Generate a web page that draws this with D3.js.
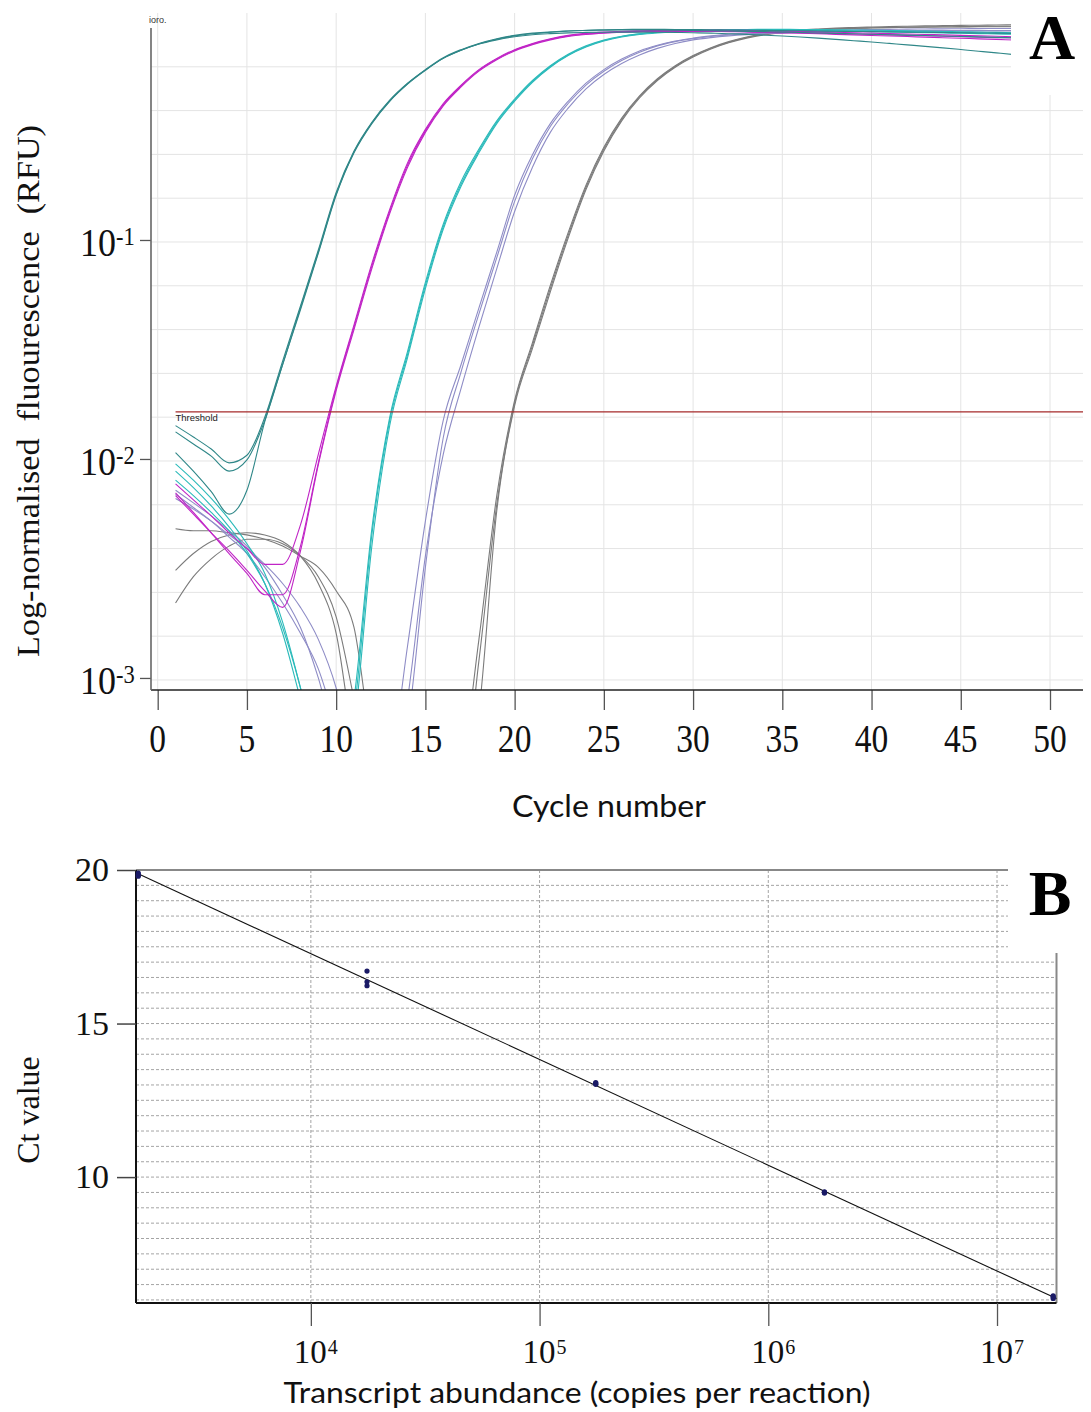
<!DOCTYPE html>
<html><head><meta charset="utf-8">
<script src="https://cdn.jsdelivr.net/npm/d3@7"></script>
<style>body{margin:0;background:#fff}svg{display:block}</style>
</head><body>
<svg id="chart" width="1091" height="1412"></svg>
<script>
// ---------------- Panel A data (log-normalised fluorescence per cycle) ----------------
const cycles = [1,2,3,4,5,6,7,8,9,10,11,12,13,14,15,16,17,18,19,20,21,22,23,24,25,26,27,28,29,30,31,32,33,34,35,36,37,38,39,40,41,42,43,44,45,46,47,48,49,50];

// 1.76e7 copies (dark teal)
const teal1 = [0.0142,0.0126,0.0111,0.0096,0.0104,0.0155,0.028,0.050,0.090,0.165,0.255,0.345,0.435,0.52,0.60,0.68,0.74,0.79,0.83,0.86,0.88,0.89,0.90,0.905,0.908,0.91,0.91,0.91,0.908,0.905,0.902,0.90,0.897,0.894,0.89,0.886,0.882,0.878,0.874,0.87,0.866,0.862,0.858,0.854,0.85,0.846,0.842,0.838,0.834,0.83];
const teal2 = [0.0133,0.0117,0.0103,0.0088,0.0099,0.0150,0.027,0.048,0.087,0.160,0.25,0.34,0.43,0.515,0.595,0.675,0.735,0.785,0.825,0.855,0.875,0.89,0.90,0.908,0.912,0.915,0.916,0.916,0.915,0.914,0.912,0.91,0.908,0.906,0.904,0.902,0.90,0.898,0.896,0.894,0.892,0.89,0.888,0.886,0.884,0.882,0.88,0.878,0.876,0.874];
const teal3 = [0.0107,0.0088,0.0071,0.0056,0.0072,0.0148,0.027,0.049,0.088,0.162,0.252,0.342,0.432,0.517,0.597,0.675,0.735,0.785,0.82,0.848,0.866,0.876,0.883,0.887,0.889,0.89,0.89,0.889,0.887,0.884,0.88,0.875,0.869,0.862,0.854,0.845,0.835,0.824,0.813,0.802,0.79,0.778,0.766,0.754,0.741,0.728,0.715,0.702,0.689,0.676];
// 1.76e6 copies (magenta)
const magenta1 = [0.0077,0.0065,0.0055,0.0046,0.0039,0.0033,0.0033,0.0050,0.0105,0.0215,0.041,0.078,0.138,0.225,0.32,0.42,0.51,0.60,0.675,0.74,0.79,0.83,0.86,0.878,0.89,0.898,0.903,0.906,0.908,0.909,0.909,0.908,0.906,0.903,0.90,0.896,0.892,0.888,0.884,0.88,0.876,0.872,0.868,0.864,0.86,0.856,0.852,0.848,0.844,0.84];
const magenta2 = [0.0070,0.0057,0.0046,0.0037,0.0030,0.0024,0.0024,0.0040,0.0096,0.0210,0.040,0.076,0.135,0.22,0.315,0.415,0.505,0.595,0.67,0.735,0.785,0.825,0.855,0.872,0.884,0.892,0.897,0.90,0.901,0.901,0.90,0.898,0.895,0.892,0.888,0.884,0.88,0.876,0.872,0.868,0.864,0.86,0.856,0.852,0.848,0.844,0.84,0.836,0.832,0.828];
const magenta3 = [0.0068,0.0056,0.0046,0.0038,0.0031,0.0025,0.0021,0.0038,0.0094,0.0205,0.039,0.074,0.132,0.215,0.31,0.41,0.50,0.59,0.665,0.73,0.78,0.82,0.85,0.868,0.88,0.888,0.893,0.896,0.897,0.897,0.896,0.894,0.891,0.887,0.883,0.879,0.874,0.869,0.864,0.859,0.854,0.849,0.844,0.839,0.834,0.829,0.824,0.819,0.814,0.81];
// 1.76e5 copies (cyan)
const cyan1 = [0.0095,0.0080,0.0066,0.0053,0.0041,0.0030,0.0018,0.0009,0.0004,0.0003,0.0007,0.0045,0.0150,0.030,0.062,0.115,0.18,0.255,0.345,0.435,0.53,0.62,0.70,0.765,0.815,0.85,0.873,0.888,0.898,0.905,0.91,0.913,0.915,0.916,0.916,0.915,0.914,0.912,0.91,0.908,0.905,0.902,0.899,0.896,0.893,0.89,0.887,0.884,0.881,0.878];
const cyan2 = [0.0088,0.0074,0.0061,0.0049,0.0038,0.0027,0.0016,0.0008,0.0004,0.0003,0.0008,0.0048,0.0155,0.031,0.064,0.118,0.185,0.26,0.35,0.44,0.535,0.625,0.705,0.77,0.818,0.852,0.874,0.888,0.897,0.903,0.907,0.909,0.91,0.91,0.909,0.908,0.906,0.904,0.902,0.90,0.897,0.894,0.891,0.888,0.885,0.882,0.879,0.876,0.873,0.87];
const cyan3 = [0.0080,0.0068,0.0057,0.0047,0.0037,0.0027,0.0017,0.0009,0.0004,0.0003,0.0006,0.0040,0.0142,0.029,0.060,0.112,0.176,0.25,0.34,0.43,0.525,0.615,0.695,0.76,0.81,0.845,0.868,0.882,0.891,0.897,0.901,0.903,0.904,0.904,0.903,0.902,0.90,0.898,0.896,0.894,0.891,0.888,0.885,0.882,0.879,0.876,0.873,0.87,0.867,0.864];
// 1.76e4 copies (lavender)
const lavender1 = [0.0072,0.0063,0.0055,0.0047,0.0040,0.0032,0.0024,0.0017,0.0010,0.0005,0.0003,0.0003,0.0004,0.0014,0.0052,0.0150,0.027,0.049,0.088,0.16,0.245,0.34,0.43,0.52,0.60,0.67,0.73,0.775,0.81,0.835,0.855,0.87,0.88,0.888,0.895,0.90,0.904,0.908,0.911,0.914,0.916,0.918,0.92,0.921,0.922,0.923,0.924,0.924,0.924,0.924];
const lavender2 = [0.0069,0.0060,0.0052,0.0044,0.0037,0.0029,0.0022,0.0016,0.0011,0.0006,0.0003,0.0003,0.0003,0.0006,0.0032,0.0125,0.025,0.046,0.083,0.15,0.235,0.33,0.42,0.51,0.59,0.66,0.72,0.77,0.805,0.83,0.85,0.863,0.873,0.88,0.886,0.89,0.894,0.897,0.899,0.901,0.902,0.903,0.904,0.905,0.905,0.905,0.905,0.905,0.905,0.905];
const lavender3 = [0.0066,0.0059,0.0052,0.0045,0.0039,0.0033,0.0027,0.0021,0.0015,0.0009,0.0004,0.0003,0.0003,0.0008,0.0036,0.0105,0.021,0.040,0.074,0.135,0.215,0.31,0.40,0.49,0.57,0.64,0.70,0.75,0.79,0.82,0.84,0.855,0.866,0.874,0.88,0.885,0.889,0.892,0.894,0.896,0.897,0.898,0.899,0.90,0.90,0.90,0.90,0.90,0.90,0.90];
// 1.76e3 copies (grey)
const grey1 = [0.0048,0.0047,0.0047,0.0046,0.0045,0.0043,0.0040,0.0036,0.0032,0.0025,0.0017,0.0005,0.0003,0.0003,0.0003,0.0003,0.0004,0.0015,0.0068,0.0185,0.034,0.062,0.108,0.178,0.265,0.36,0.455,0.545,0.625,0.695,0.755,0.805,0.845,0.875,0.895,0.91,0.92,0.928,0.934,0.939,0.943,0.947,0.95,0.953,0.955,0.957,0.959,0.961,0.962,0.963];
const grey2 = [0.0031,0.0037,0.0042,0.0045,0.0046,0.0045,0.0042,0.0036,0.0027,0.0016,0.0005,0.0003,0.0003,0.0003,0.0003,0.0003,0.0003,0.0007,0.0058,0.0175,0.032,0.058,0.102,0.17,0.255,0.35,0.445,0.535,0.615,0.685,0.745,0.795,0.835,0.865,0.885,0.90,0.91,0.918,0.924,0.929,0.933,0.936,0.939,0.941,0.943,0.945,0.946,0.947,0.948,0.949];
const grey3 = [0.0022,0.0029,0.0035,0.0040,0.0043,0.0043,0.0041,0.0036,0.0029,0.0019,0.0008,0.0003,0.0003,0.0003,0.0003,0.0003,0.0003,0.0012,0.0062,0.0180,0.033,0.06,0.105,0.174,0.26,0.355,0.45,0.54,0.62,0.69,0.75,0.80,0.84,0.87,0.89,0.905,0.915,0.922,0.927,0.931,0.934,0.936,0.938,0.939,0.94,0.941,0.942,0.942,0.943,0.943];

const thresholdValue = 0.0164;
const xTicksA = [0,5,10,15,20,25,30,35,40,45,50];
const yTicksA = [0.1, 0.01, 0.001];
const yTickExpA = ["-1","-2","-3"];

// ---------------- Panel B data (standard curve) ----------------
const copies = [1.76e3, 1.76e4, 1.76e5, 1.76e6, 1.76e7];
const ctRep1 = [19.90, 16.71, 13.05, 9.50, 6.05];
const ctRep2 = [19.85, 16.36, 13.08, 9.52, 6.10];
const ctRep3 = [19.80, 16.23, 13.02, 9.48, 6.13];
const xTicksB = [1e4, 1e5, 1e6, 1e7];
const xTickExpB = ["4","5","6","7"];
const yTicksB = [20, 15, 10];

// ---------------- drawing ----------------
const svg = d3.select("#chart");
const serif = "'Liberation Serif','Times New Roman',serif";
const sans = "Lato,'Open Sans',sans-serif";

const seriesA = [
  {c:"#7b7b7b", v:grey1},{c:"#7b7b7b", v:grey2},{c:"#7b7b7b", v:grey3},
  {c:"#8e8cc6", v:lavender1},{c:"#8e8cc6", v:lavender2},{c:"#8e8cc6", v:lavender3},
  {c:"#2bbaba", v:cyan1},{c:"#2bbaba", v:cyan2},{c:"#2bbaba", v:cyan3},
  {c:"#c024c6", v:magenta1},{c:"#c024c6", v:magenta2},{c:"#c024c6", v:magenta3},
  {c:"#2f8788", v:teal1},{c:"#2f8788", v:teal2},{c:"#2f8788", v:teal3}
];

const xA = d3.scaleLinear().domain([0,50]).range([157.7,1050]);
const yA = d3.scaleLog().domain([Math.pow(10,-3.055),1]).range([690,21]);

const defs = svg.append("defs");
defs.append("clipPath").attr("id","clipA").append("rect")
  .attr("x",151).attr("y",13).attr("width",932).attr("height",677);

const gA = svg.append("g");
// gridlines
const hGrid = [];
for (let e=-3; e<0; e++) for (let k=0; k<5; k++) hGrid.push(Math.pow(10, e + k/5));
gA.append("g").selectAll("line").data(hGrid).join("line")
  .attr("x1",151).attr("x2",1083)
  .attr("y1",d=>yA(d)+2).attr("y2",d=>yA(d)+2)
  .attr("stroke","#e4e4e4").attr("stroke-width",1);
gA.append("g").selectAll("line").data(xTicksA).join("line")
  .attr("x1",d=>xA(d)).attr("x2",d=>xA(d))
  .attr("y1",13).attr("y2",690)
  .attr("stroke","#e4e4e4").attr("stroke-width",1);

// curves
const lineA = d3.line().x((d,i)=>xA(cycles[i])).y(d=>yA(d)).curve(d3.curveMonotoneX);
gA.append("g").attr("clip-path","url(#clipA)")
  .selectAll("path").data(seriesA).join("path")
  .attr("d",d=>lineA(d.v)).attr("fill","none")
  .attr("stroke",d=>d.c).attr("stroke-width",1.1);

// threshold
gA.append("line").attr("x1",xA(1)).attr("x2",1083)
  .attr("y1",yA(thresholdValue)).attr("y2",yA(thresholdValue))
  .attr("stroke","#a52a2a").attr("stroke-width",1.2);
gA.append("text").attr("x",xA(1)).attr("y",yA(thresholdValue)+9)
  .attr("font-family","'Liberation Sans',Arial,sans-serif").attr("font-size",9.5)
  .attr("fill","#222").text("Threshold");
gA.append("text").attr("x",149).attr("y",23)
  .attr("font-family","'Liberation Sans',Arial,sans-serif").attr("font-size",9)
  .attr("fill","#333").text("ioro.");

// axes A
const xAxisA = d3.axisBottom(xA).tickValues(xTicksA).tickSize(20).tickFormat("");
const gxA = gA.append("g").attr("transform","translate(0,690)").call(xAxisA);
gxA.select(".domain").remove();
gxA.selectAll(".tick line").attr("stroke","#555").attr("stroke-width",1.3);
gA.append("line").attr("x1",151).attr("x2",1083).attr("y1",690).attr("y2",690)
  .attr("stroke","#222").attr("stroke-width",1.6);
gA.selectAll(".xlabA").data(xTicksA).join("text").attr("class","xlabA")
  .attr("transform",d=>`translate(${xA(d)},752) scale(0.86,1)`)
  .attr("text-anchor","middle").attr("font-family",serif).attr("font-size",39)
  .attr("fill","#111").text(d=>d);

const yAxisA = d3.axisLeft(yA).tickValues(yTicksA).tickSize(11).tickFormat("");
const gyA = gA.append("g").attr("transform","translate(151,0)").call(yAxisA);
gyA.select(".domain").remove();
gyA.selectAll(".tick line").attr("stroke","#555").attr("stroke-width",1.3);
gA.append("line").attr("x1",151).attr("x2",151).attr("y1",28).attr("y2",690)
  .attr("stroke","#666").attr("stroke-width",1.6);
yTicksA.forEach((v,i)=>{
  const t = gA.append("text")
    .attr("transform",`translate(80,${yA(v)+16}) scale(0.9,1)`)
    .attr("text-anchor","start").attr("font-family",serif).attr("font-size",40).attr("fill","#111");
  t.append("tspan").text("10");
  t.append("tspan").attr("dy",-11).attr("font-size",25).text(yTickExpA[i]);
});

gA.append("text").attr("transform","translate(39,391) rotate(-90)")
  .attr("text-anchor","middle").attr("font-family",serif).attr("font-size",32)
  .attr("textLength",532).attr("lengthAdjust","spacingAndGlyphs")
  .attr("fill","#111").attr("xml:space","preserve")
  .text("Log-normalised  fluourescence  (RFU)");
gA.append("text").attr("x",609).attr("y",817).attr("text-anchor","middle")
  .attr("font-family",sans).attr("font-size",30)
  .attr("textLength",194).attr("lengthAdjust","spacingAndGlyphs")
  .attr("fill","#111").text("Cycle number");

// corner mask + panel label A
svg.append("rect").attr("x",1011).attr("y",0).attr("width",80).attr("height",95).attr("fill","#fff");
svg.append("text").attr("x",1052).attr("y",59).attr("text-anchor","middle")
  .attr("font-family",serif).attr("font-weight","bold").attr("font-size",64)
  .attr("fill","#000").text("A");

// ---------------- Panel B ----------------
const xB = d3.scaleLog().domain([1720, 1.82e7]).range([136,1056.5]);
const yB = d3.scaleLinear().domain([5.9,20]).range([1303,870]);
const gB = svg.append("g");

const hGridB = d3.range(6, 20, 0.5);
gB.append("g").selectAll("line").data(hGridB).join("line")
  .attr("x1",136).attr("x2",1056.5).attr("y1",d=>yB(d)).attr("y2",d=>yB(d))
  .attr("stroke","#9a9a9a").attr("stroke-width",0.9).attr("stroke-dasharray","3,2");
gB.append("g").selectAll("line").data(xTicksB).join("line")
  .attr("x1",d=>xB(d)).attr("x2",d=>xB(d)).attr("y1",870).attr("y2",1303)
  .attr("stroke","#9a9a9a").attr("stroke-width",0.9).attr("stroke-dasharray","3,2");

// box
gB.append("line").attr("x1",136).attr("x2",1056.5).attr("y1",870).attr("y2",870).attr("stroke","#888").attr("stroke-width",2);
gB.append("line").attr("x1",1056.5).attr("x2",1056.5).attr("y1",870).attr("y2",1303).attr("stroke","#888").attr("stroke-width",2);
gB.append("line").attr("x1",136).attr("x2",136).attr("y1",870).attr("y2",1303).attr("stroke","#111").attr("stroke-width",2);
gB.append("line").attr("x1",136).attr("x2",1056.5).attr("y1",1303).attr("y2",1303).attr("stroke","#111").attr("stroke-width",2);

// regression line (least squares on log10 copies)
const allX = [], allY = [];
[ctRep1, ctRep2, ctRep3].forEach(r => r.forEach((ct,i)=>{ allX.push(Math.log10(copies[i])); allY.push(ct); }));
const mx = d3.mean(allX), my = d3.mean(allY);
const slope = d3.sum(allX.map((x,i)=>(x-mx)*(allY[i]-my))) / d3.sum(allX.map(x=>(x-mx)*(x-mx)));
const icpt = my - slope*mx;
const xd = xB.domain();
gB.append("line")
  .attr("x1",xB(xd[0])).attr("y1",yB(icpt+slope*Math.log10(xd[0])))
  .attr("x2",xB(xd[1])).attr("y2",yB(icpt+slope*Math.log10(xd[1])))
  .attr("stroke","#111").attr("stroke-width",1.1);

// points
const pts = [];
[ctRep1, ctRep2, ctRep3].forEach(r => r.forEach((ct,i)=>pts.push([copies[i], ct])));
gB.append("g").selectAll("circle").data(pts).join("circle")
  .attr("cx",d=>xB(d[0])).attr("cy",d=>yB(d[1])).attr("r",2.6).attr("fill","#1a1a66");

// axes B
const xAxisB = d3.axisBottom(xB).tickValues(xTicksB).tickSize(23).tickFormat("");
const gxB = gB.append("g").attr("transform","translate(0,1303)").call(xAxisB);
gxB.select(".domain").remove();
gxB.selectAll(".tick line").attr("stroke","#555").attr("stroke-width",1.3);
xTicksB.forEach((v,i)=>{
  const t = gB.append("text").attr("x",xB(v)-17).attr("y",1363).attr("text-anchor","start")
    .attr("font-family",serif).attr("font-size",33).attr("fill","#111");
  t.append("tspan").text("10");
  t.append("tspan").attr("dx",1).attr("dy",-9).attr("font-size",20).text(xTickExpB[i]);
});
const yAxisB = d3.axisLeft(yB).tickValues(yTicksB).tickSize(19).tickFormat("");
const gyB = gB.append("g").attr("transform","translate(136,0)").call(yAxisB);
gyB.select(".domain").remove();
gyB.selectAll(".tick line").attr("stroke","#444").attr("stroke-width",1.5);
gB.selectAll(".ylabB").data(yTicksB).join("text").attr("class","ylabB")
  .attr("x",109).attr("y",d=>yB(d)+11).attr("text-anchor","end")
  .attr("font-family",serif).attr("font-size",34).attr("fill","#111").text(d=>d);

gB.append("text").attr("transform","translate(39,1110) rotate(-90)")
  .attr("text-anchor","middle").attr("font-family",serif).attr("font-size",32)
  .attr("fill","#111").text("Ct value");
gB.append("text").attr("x",577).attr("y",1403).attr("text-anchor","middle")
  .attr("font-family",sans).attr("font-size",29)
  .attr("textLength",587).attr("lengthAdjust","spacingAndGlyphs")
  .attr("fill","#111").text("Transcript abundance (copies per reaction)");

svg.append("rect").attr("x",1008).attr("y",850).attr("width",83).attr("height",103).attr("fill","#fff");
svg.append("text").attr("x",1050).attr("y",915).attr("text-anchor","middle")
  .attr("font-family",serif).attr("font-weight","bold").attr("font-size",64)
  .attr("fill","#000").text("B");
</script>
</body></html>
